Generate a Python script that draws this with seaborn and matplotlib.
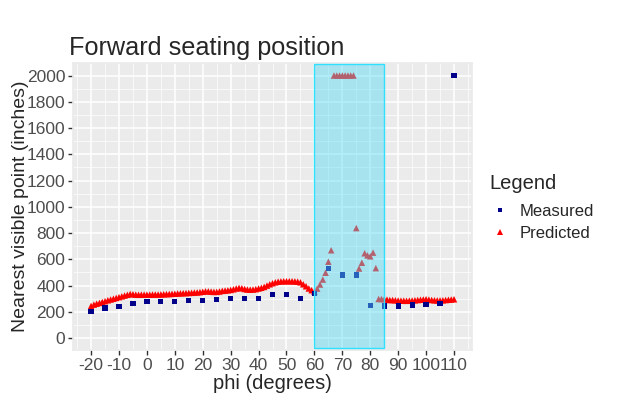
import pandas as pd
import matplotlib.pyplot as plt
import seaborn as sns
from matplotlib.patches import Rectangle
from matplotlib.ticker import MultipleLocator

# measured every 5 degrees
measured_phi = list(range(-20, 111, 5))
measured_dist = [203, 230, 240, 263, 276, 276, 276, 286, 284, 296,
                 300, 300, 300, 330, 332, 300, 342, 528, 480, 480,
                 248, 245, 245, 252, 258, 265, 2000]

# predicted every degree
predicted_phi = list(range(-20, 111))
predicted_dist = [245, 255, 262, 268, 275, 281, 288, 294, 300, 306,
                  312, 318, 324, 330, 336, 334, 331, 330, 331, 331,
                  331, 331, 332, 332, 332, 333, 334, 335, 336, 337,
                  338, 340, 341, 342, 343, 344, 345, 347, 348, 350,
                  353, 356, 356, 354, 352, 352, 355, 360, 362, 364,
                  367, 372, 378, 382, 380, 374, 370, 369, 370, 373,
                  378, 383, 390, 400, 410, 418, 425, 430, 432, 433,
                  433, 433, 433, 432, 430, 425, 410, 395, 378, 365,
                  355, 377, 408, 446, 498, 582, 669, 2000, 2000, 2000,
                  2000, 2000, 2000, 2000, 2000, 838, 530, 574, 646, 630,
                  623, 651, 533, 298, 298, 296, 293, 290, 290, 288,
                  286, 285, 285, 284, 285, 286, 288, 290, 292, 294,
                  296, 293, 290, 288, 287, 287, 288, 290, 292, 294, 296]

# blind zone
zone_start, zone_end = 60, 85

df = pd.concat([
    pd.DataFrame({"phi": predicted_phi, "dist": predicted_dist, "Legend": "Predicted"}),
    pd.DataFrame({"phi": measured_phi, "dist": measured_dist, "Legend": "Measured"}),
], ignore_index=True)

sns.set_theme(style="darkgrid", rc={
    "axes.facecolor": "#EBEBEB",
    "grid.color": "white",
    "axes.edgecolor": "#EBEBEB",
    "axes.unicode_minus": False,
})
plt.rcParams["font.family"] = ["Liberation Sans", "DejaVu Sans"]

fig = plt.figure(figsize=(6.18, 3.99), dpi=100)
ax = fig.add_axes([0.118, 0.123, 0.646, 0.719])

sns.scatterplot(data=df, x="phi", y="dist", hue="Legend", style="Legend",
                hue_order=["Measured", "Predicted"],
                style_order=["Measured", "Predicted"],
                palette={"Measured": "#00008B", "Predicted": "#FF0000"},
                markers={"Measured": "s", "Predicted": "^"},
                size="Legend", sizes={"Measured": 14, "Predicted": 22},
                linewidth=0, ax=ax, zorder=3)

ax.add_patch(Rectangle((zone_start, -72), zone_end - zone_start, 2087 + 72,
                       facecolor="#56DBF6", alpha=0.45, edgecolor="none", zorder=4))
ax.add_patch(Rectangle((zone_start, -72), zone_end - zone_start, 2087 + 72,
                       facecolor="none", edgecolor="#30E0FF", lw=1.0, zorder=5))

ax.set_xlim(-26.5, 116.5)
ax.set_ylim(-90, 2095)
ax.xaxis.set_major_locator(MultipleLocator(10))
ax.xaxis.set_minor_locator(MultipleLocator(5))
ax.yaxis.set_major_locator(MultipleLocator(200))
ax.yaxis.set_minor_locator(MultipleLocator(100))
ax.grid(which="major", color="white", lw=1.1)
ax.grid(which="minor", color="white", lw=0.5)
ax.tick_params(which="major", length=3.5, width=1, color="#333333",
               labelsize=12.5, labelcolor="#4D4D4D", pad=2, bottom=True, left=True)
ax.tick_params(which="minor", length=0)

ax.set_title("Forward seating position", loc="left", fontsize=18.2, pad=6, x=-0.01)
ax.set_xlabel("phi (degrees)", fontsize=14.5, labelpad=1)
ax.set_ylabel("Nearest visible point (inches)", fontsize=14, labelpad=-2)

leg = ax.legend(loc="center left", bbox_to_anchor=(0.768, 0.48),
                bbox_transform=fig.transFigure, frameon=False,
                title="Legend", fontsize=12, title_fontsize=14.5,
                handlelength=1.2, handletextpad=0.6, labelspacing=0.45,
                markerscale=0.8)
leg._legend_box.align = "left"
leg._legend_box.sep = 8

plt.savefig("out.png", dpi=100)
